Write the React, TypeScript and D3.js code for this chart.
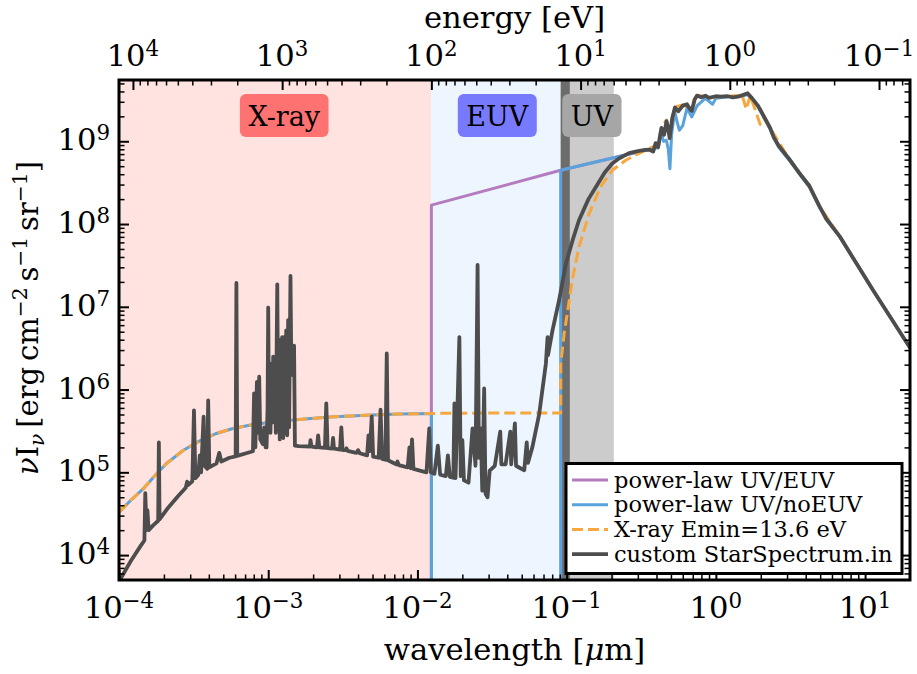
import { useEffect, useRef } from 'react'
import * as d3 from 'd3'

type Pt = [number, number]

const HC = 1.23984 // eV * um
const WAVE_DOMAIN: [number, number] = [1e-4, 20]
const FLUX_DOMAIN: [number, number] = [5e3, 5.5e9]

const waveMajor = [1e-4, 1e-3, 1e-2, 1e-1, 1, 10]
const waveMajorExp = ['−4', '−3', '−2', '−1', '0', '1']
const energyMajor = [1e4, 1e3, 1e2, 1e1, 1, 0.1]
const energyMajorExp = ['4', '3', '2', '1', '0', '−1']
const fluxMajor = [1e4, 1e5, 1e6, 1e7, 1e8, 1e9]
const fluxMajorExp = ['4', '5', '6', '7', '8', '9']

// shaded regions (wavelength, um)
const regionNames = ['X-ray', 'EUV', 'UV']
const regionFrom = [1e-4, 0.0124, 0.0912]
const regionTo = [0.0124, 0.0912, 0.207]
const regionLabelAt = [1.28e-3, 0.0343, 0.1476]
const darkBand: [number, number] = [0.0912, 0.105]

const legendNames = ['power-law UV/EUV', 'power-law UV/noEUV', 'X-ray Emin=13.6 eV', 'custom StarSpectrum.in']

// X-ray power law shared by the two power-law spectra
const xrayPowerLaw: Pt[] = [
  [1e-4, 3.3e4], [1.2e-4, 4.6e4], [1.45e-4, 6.3e4], [1.75e-4, 9.2e4], [2.08e-4, 1.28e5],
  [2.7e-4, 1.85e5], [3.48e-4, 2.4e5], [4.5e-4, 2.95e5], [5.8e-4, 3.39e5], [7.5e-4, 3.7e5],
  [9.7e-4, 3.96e5], [1.6e-3, 4.36e5], [2.6e-3, 4.65e5], [4.5e-3, 4.9e5], [7.5e-3, 5.05e5],
  [1.24e-2, 5.15e5],
]

const purpleLine: Pt[] = [
  [1.24e-2, 1e2], [1.24e-2, 1.69e8], [9.12e-2, 4.46e8], [3.9e-1, 8.3e8],
]

const blueGap: Pt[] = [
  [1.24e-2, 1e2], [9.12e-2, 1e2], [9.12e-2, 4.46e8], [3.9e-1, 8.3e8],
]

const blueStar: Pt[] = [
  [4.1e-1, 8.3e8], [4.3e-1, 1.3e9], [4.45e-1, 1.0e9], [4.66e-1, 1.03e9], [4.8e-1, 8e8],
  [4.92e-1, 4.67e8], [5.05e-1, 1.2e9], [5.3e-1, 2.3e9], [5.5e-1, 1.7e9], [5.7e-1, 1.36e9],
  [6.0e-1, 1.55e9], [6.4e-1, 2.5e9], [6.9e-1, 1.97e9], [7.5e-1, 2.7e9], [8.5e-1, 3.3e9],
  [9.5e-1, 2.8e9], [1.0, 3.3e9], [1.2, 3.45e9], [1.5, 3.5e9], [1.63, 3.7e9], [1.92, 2.6e9],
  [2.31, 1.4e9], [2.62, 8.6e8], [3.08, 6.0e8], [4.23, 2.8e8], [4.94, 1.6e8], [6.76, 7.0e7],
  [11.4, 1.55e7], [20, 3.2e6],
]

const orangeTail: Pt[] = [
  [1.24e-2, 5.15e5], [3e-2, 5.2e5], [9.12e-2, 5.2e5], [9.12e-2, 2.0e6], [9.62e-2, 4.75e6],
  [1.01e-1, 8.3e6], [1.09e-1, 2.1e7], [1.21e-1, 5.3e7], [1.416e-1, 1.34e8], [1.685e-1, 2.8e8],
  [2.02e-1, 4.46e8], [2.49e-1, 5.9e8], [3.03e-1, 7.1e8], [3.75e-1, 8.5e8], [4.1e-1, 9.0e8],
  [4.32e-1, 1.5e9], [4.67e-1, 1.8e9], [4.9e-1, 1.2e9], [5.32e-1, 2.6e9], [6.0e-1, 2.75e9],
  [6.9e-1, 2.4e9], [7.48e-1, 3.6e9], [9e-1, 3.4e9], [1.2, 3.5e9], [1.5, 3.6e9], [1.6, 2.44e9],
  [1.7, 3.6e9], [1.98, 1.6e9], [2.1, 1.9e9], [2.31, 1.45e9], [3.08, 6.2e8], [4.23, 2.9e8],
  [4.94, 1.65e8], [6.76, 7.1e7], [11.4, 1.55e7], [20, 3.2e6],
]

// custom StarSpectrum.in
const starSpectrum: Pt[] = [
  [1.0e-4, 4.8e3], [1.2e-4, 8.5e3], [1.4e-4, 1.3e4], [1.48e-4, 1.5e4], [1.5e-4, 5.6e4],
  [1.53e-4, 2.0e4], [1.55e-4, 3.5e4], [1.58e-4, 2.0e4], [1.7e-4, 2.3e4], [1.83e-4, 2.6e4],
  [1.85e-4, 2.3e5], [1.87e-4, 2.7e4], [2.1e-4, 3.6e4], [2.5e-4, 5.2e4], [2.8e-4, 6.5e4],
  [2.86e-4, 7.7e4], [2.9e-4, 7.0e4], [3.1e-4, 7.8e4], [3.18e-4, 5.6e5], [3.25e-4, 8.5e4],
  [3.4e-4, 9.3e4], [3.48e-4, 1.6e5], [3.55e-4, 1.0e5], [3.69e-4, 4.7e5], [3.75e-4, 1.2e5],
  [3.9e-4, 1.1e5], [3.96e-4, 7.4e5], [4.03e-4, 1.15e5], [4.5e-4, 1.28e5], [4.7e-4, 1.72e5],
  [4.85e-4, 1.35e5], [5.5e-4, 1.5e5], [6.05e-4, 1.56e5], [6.12e-4, 1.94e7], [6.2e-4, 1.58e5],
  [7.5e-4, 1.75e5], [7.9e-4, 1.8e5], [8.04e-4, 9e5], [8.2e-4, 2e5], [8.4e-4, 1.24e6],
  [8.55e-4, 3e5], [8.7e-4, 1.43e6], [8.85e-4, 2.5e5], [9.2e-4, 2.2e5], [9.4e-4, 3.5e5],
  [9.6e-4, 2.0e5], [9.75e-4, 2.0e5], [9.9e-4, 6e5], [1.0e-3, 9.8e6], [1.012e-3, 4e5],
  [1.025e-3, 2.07e6], [1.035e-3, 3e5], [1.05e-3, 1.5e6], [1.065e-3, 4e5], [1.08e-3, 2.5e6],
  [1.095e-3, 5e5], [1.11e-3, 2.2e6], [1.125e-3, 3e5], [1.15e-3, 1.87e7], [1.165e-3, 6e5],
  [1.18e-3, 3.95e6], [1.195e-3, 2.5e5], [1.21e-3, 4.0e6], [1.225e-3, 3e5], [1.24e-3, 4.3e6],
  [1.26e-3, 2.6e5], [1.28e-3, 4.3e6], [1.3e-3, 3e5], [1.32e-3, 5.2e6], [1.34e-3, 2.8e5],
  [1.36e-3, 6.9e6], [1.38e-3, 3.5e5], [1.41e-3, 2.36e7], [1.43e-3, 1.5e6], [1.45e-3, 3.4e6],
  [1.47e-3, 2.0e6], [1.49e-3, 3.4e6], [1.51e-3, 2.1e5], [1.6e-3, 2.07e5], [1.9e-3, 2.05e5],
  [1.92e-3, 2.45e5], [1.95e-3, 2.05e5], [2.12e-3, 2.0e5], [2.16e-3, 2.8e5], [2.2e-3, 2.0e5],
  [2.4e-3, 1.97e5], [2.45e-3, 6.8e5], [2.5e-3, 1.96e5], [2.68e-3, 1.94e5], [2.72e-3, 2.6e5],
  [2.76e-3, 1.93e5], [3.03e-3, 1.88e5], [3.09e-3, 3.5e5], [3.15e-3, 1.86e5], [3.3e-3, 1.85e5],
  [3.35e-3, 1.95e5], [3.4e-3, 1.82e5], [3.9e-3, 1.72e5], [4.0e-3, 1.85e5], [4.1e-3, 1.7e5],
  [4.6e-3, 1.6e5], [4.7e-3, 2.8e5], [4.8e-3, 1.8e5], [4.94e-3, 4.7e5], [5.05e-3, 1.55e5],
  [5.5e-3, 1.5e5], [5.66e-3, 5.7e5], [5.8e-3, 1.45e5], [6.1e-3, 1.42e5], [6.23e-3, 2.73e6],
  [6.35e-3, 1.4e5], [7.2e-3, 1.25e5], [7.35e-3, 1.35e5], [7.5e-3, 1.22e5], [8.6e-3, 1.15e5],
  [8.84e-3, 2.0e5], [9.0e-3, 1.12e5], [9.2e-3, 2.5e5], [9.4e-3, 1.1e5], [1.1e-2, 1.02e5],
  [1.15e-2, 1.0e5], [1.2e-2, 3.4e5], [1.23e-2, 1.0e5], [1.3e-2, 9.6e4], [1.37e-2, 2.1e5],
  [1.42e-2, 9.4e4], [1.55e-2, 9e4], [1.6e-2, 1.6e5], [1.65e-2, 8.8e4], [1.74e-2, 8.6e4],
  [1.77e-2, 6.8e5], [1.8e-2, 8.5e4], [1.91e-2, 4.3e6], [1.95e-2, 9e4], [2.0e-2, 2.45e5],
  [2.05e-2, 8e4], [2.2e-2, 7.5e4], [2.34e-2, 3.4e5], [2.45e-2, 1.2e5], [2.53e-2, 3.2e7],
  [2.58e-2, 1.5e5], [2.65e-2, 3.4e5], [2.72e-2, 6e4], [2.8e-2, 1.03e6], [2.86e-2, 5.5e4],
  [2.95e-2, 5e4], [3.05e-2, 1.05e5], [3.3e-2, 1.2e5], [3.59e-2, 3.1e5], [3.65e-2, 1.25e5],
  [3.9e-2, 1.25e5], [4.19e-2, 3.1e5], [4.25e-2, 1.25e5], [4.5e-2, 3.9e5], [4.58e-2, 1.2e5],
  [4.9e-2, 1.12e5], [5.2e-2, 1.06e5], [5.4e-2, 2.3e5], [5.5e-2, 1.3e5], [5.9e-2, 2.03e5],
  [6.55e-2, 5.1e5], [7.26e-2, 2.07e6], [7.45e-2, 4.3e6], [7.5e-2, 2.6e6], [8.04e-2, 5.2e6],
  [8.9e-2, 1.2e7], [9.88e-2, 3.3e7], [1.1e-1, 6.5e7], [1.21e-1, 1.11e8], [1.4e-1, 2.0e8],
  [1.57e-1, 2.8e8], [1.8e-1, 4.2e8], [2.02e-1, 5.4e8], [2.24e-1, 6.2e8], [2.62e-1, 7.2e8],
  [3.0e-1, 7.6e8], [3.36e-1, 7.85e8], [3.6e-1, 7.9e8], [3.8e-1, 7.5e8], [3.95e-1, 9.5e8],
  [4.1e-1, 8.5e8], [4.32e-1, 1.45e9], [4.5e-1, 1.2e9], [4.67e-1, 1.75e9], [4.8e-1, 1.4e9],
  [4.9e-1, 1.09e9], [5.1e-1, 1.9e9], [5.32e-1, 2.56e9], [5.6e-1, 2.3e9], [6.0e-1, 2.7e9],
  [6.4e-1, 2.8e9], [6.7e-1, 2.45e9], [6.9e-1, 2.33e9], [7.2e-1, 3.2e9], [7.48e-1, 3.56e9],
  [8e-1, 3.4e9], [8.5e-1, 3.55e9], [9e-1, 3.35e9], [1.0, 3.5e9], [1.08, 3.46e9], [1.2, 3.5e9],
  [1.3, 3.4e9], [1.41, 3.46e9], [1.5, 3.6e9], [1.63, 3.8e9], [1.75, 3.3e9], [1.92, 2.68e9],
  [2.1, 2.0e9], [2.31, 1.45e9], [2.45, 1.1e9], [2.62, 9e8], [3.08, 6.2e8], [3.6, 4.2e8],
  [4.23, 2.9e8], [4.94, 1.65e8], [5.5, 1.15e8], [6.76, 7.1e7], [11.4, 1.55e7], [20, 3.2e6],
]

const PLOT = { left: 119, right: 910, top: 80, bottom: 580 }
const FONT = 'DejaVu Serif, serif'
const COLORS = {
  purple: '#b47cbf',
  blue: '#5aa2dc',
  orange: '#f8a73e',
  gray: '#4d4d4d',
  regions: ['#ffe3e0', '#edf5fe', '#cccccc'],
  labels: ['#ff7272', '#787afe', '#a6a6a6'],
  dark: '#6c6c6c',
}

function minorTicks(lo: number, hi: number) {
  const out: number[] = []
  for (let p = Math.floor(Math.log10(lo)) - 1; p <= Math.ceil(Math.log10(hi)); p++) {
    for (let k = 2; k <= 9; k++) {
      const v = k * Math.pow(10, p)
      if (v > lo && v < hi) out.push(v)
    }
  }
  return out
}

export default function App() {
  const ref = useRef<SVGSVGElement>(null)

  useEffect(() => {
    const el = ref.current
    if (!el) return
    const svg = d3.select(el)
    svg.selectAll('*').remove()

    const x = d3.scaleLog().domain(WAVE_DOMAIN).range([PLOT.left, PLOT.right])
    const y = d3.scaleLog().domain(FLUX_DOMAIN).range([PLOT.bottom, PLOT.top])
    const e = d3
      .scaleLog()
      .domain([HC / WAVE_DOMAIN[0], HC / WAVE_DOMAIN[1]])
      .range([PLOT.left, PLOT.right])

    svg
      .append('defs')
      .append('clipPath')
      .attr('id', 'plot-clip')
      .append('rect')
      .attr('x', PLOT.left)
      .attr('y', PLOT.top)
      .attr('width', PLOT.right - PLOT.left)
      .attr('height', PLOT.bottom - PLOT.top)

    const plot = svg.append('g').attr('clip-path', 'url(#plot-clip)')

    // background regions
    regionNames.forEach((_, i) => {
      plot
        .append('rect')
        .attr('x', x(regionFrom[i]))
        .attr('y', PLOT.top)
        .attr('width', x(regionTo[i]) - x(regionFrom[i]))
        .attr('height', PLOT.bottom - PLOT.top)
        .attr('fill', COLORS.regions[i])
    })
    plot
      .append('rect')
      .attr('x', x(darkBand[0]))
      .attr('y', PLOT.top)
      .attr('width', x(darkBand[1]) - x(darkBand[0]))
      .attr('height', PLOT.bottom - PLOT.top)
      .attr('fill', COLORS.dark)

    const line = d3
      .line<Pt>()
      .x((d) => x(d[0]))
      .y((d) => y(d[1]))

    const drawLine = (data: Pt[], color: string, width: number, dash?: string) =>
      plot
        .append('path')
        .datum(data)
        .attr('d', line)
        .attr('fill', 'none')
        .attr('stroke', color)
        .attr('stroke-width', width)
        .attr('stroke-linejoin', 'round')
        .attr('stroke-dasharray', dash ?? null)

    drawLine(purpleLine, COLORS.purple, 3)
    drawLine([...xrayPowerLaw, ...blueGap, ...blueStar], COLORS.blue, 3)
    drawLine([...xrayPowerLaw, ...orangeTail], COLORS.orange, 3, '11 5')
    drawLine(starSpectrum, COLORS.gray, 3.8)

    // region labels
    regionNames.forEach((name, i) => {
      const g = svg.append('g')
      const t = g
        .append('text')
        .attr('x', x(regionLabelAt[i]))
        .attr('y', 126)
        .attr('text-anchor', 'middle')
        .style('font-family', FONT)
        .style('font-size', '27px')
        .text(name)
      const w = (t.node() as SVGTextElement).getComputedTextLength() + 17
      g.insert('rect', 'text')
        .attr('x', x(regionLabelAt[i]) - w / 2)
        .attr('y', 94)
        .attr('width', w)
        .attr('height', 43)
        .attr('rx', 6)
        .attr('fill', COLORS.labels[i])
    })

    // ticks (inward on all four sides)
    const styleTicks = (s: d3.Selection<SVGGElement, unknown, null, undefined>, w: number) => {
      s.select('.domain').remove()
      s.selectAll('line').attr('stroke', '#000').attr('stroke-width', w)
    }
    const addAxis = (axis: d3.Axis<number>, tx: number, ty: number, w: number) =>
      svg
        .append('g')
        .attr('transform', `translate(${tx},${ty})`)
        .call(axis as any)
        .call((s) => styleTicks(s as any, w))

    const waveMinor = minorTicks(WAVE_DOMAIN[0], WAVE_DOMAIN[1])
    const fluxMinor = minorTicks(FLUX_DOMAIN[0], FLUX_DOMAIN[1])
    const eMinor = minorTicks(HC / WAVE_DOMAIN[1], HC / WAVE_DOMAIN[0])
    const nofmt = () => ''

    addAxis(d3.axisBottom(x).tickValues(waveMajor).tickSize(-10).tickFormat(nofmt), 0, PLOT.bottom, 2)
    addAxis(d3.axisBottom(x).tickValues(waveMinor).tickSize(-5.5).tickFormat(nofmt), 0, PLOT.bottom, 1.5)
    addAxis(d3.axisTop(e).tickValues(energyMajor).tickSize(-10).tickFormat(nofmt), 0, PLOT.top, 2)
    addAxis(d3.axisTop(e).tickValues(eMinor).tickSize(-5.5).tickFormat(nofmt), 0, PLOT.top, 1.5)
    addAxis(d3.axisLeft(y).tickValues(fluxMajor).tickSize(-10).tickFormat(nofmt), PLOT.left, 0, 2)
    addAxis(d3.axisLeft(y).tickValues(fluxMinor).tickSize(-5.5).tickFormat(nofmt), PLOT.left, 0, 1.5)
    addAxis(d3.axisRight(y).tickValues(fluxMajor).tickSize(-10).tickFormat(nofmt), PLOT.right, 0, 2)
    addAxis(d3.axisRight(y).tickValues(fluxMinor).tickSize(-5.5).tickFormat(nofmt), PLOT.right, 0, 1.5)

    // frame
    svg
      .append('rect')
      .attr('x', PLOT.left)
      .attr('y', PLOT.top)
      .attr('width', PLOT.right - PLOT.left)
      .attr('height', PLOT.bottom - PLOT.top)
      .attr('fill', 'none')
      .attr('stroke', '#000')
      .attr('stroke-width', 3)

    // tick labels: 10^n
    const powLabel = (px: number, py: number, exp: string, anchor: string) => {
      const t = svg
        .append('text')
        .attr('x', px)
        .attr('y', py)
        .attr('text-anchor', anchor)
        .style('font-family', FONT)
        .style('font-size', '30.6px')
      t.append('tspan').text('10')
      t.append('tspan').attr('dy', -10).style('font-size', '21.4px').text(exp)
    }
    waveMajor.forEach((v, i) => powLabel(x(v), 618, waveMajorExp[i], 'middle'))
    energyMajor.forEach((v, i) => powLabel(e(v), 66, energyMajorExp[i], 'middle'))
    fluxMajor.forEach((v, i) => powLabel(110, y(v) + 9, fluxMajorExp[i], 'end'))

    // axis titles
    const xl = svg
      .append('text')
      .attr('x', (PLOT.left + PLOT.right) / 2)
      .attr('y', 660)
      .attr('text-anchor', 'middle')
      .style('font-family', FONT)
      .style('font-size', '30.6px')
    xl.append('tspan').text('wavelength [')
    xl.append('tspan').style('font-style', 'italic').text('μ')
    xl.append('tspan').text('m]')
    svg
      .append('text')
      .attr('x', (PLOT.left + PLOT.right) / 2)
      .attr('y', 28)
      .attr('text-anchor', 'middle')
      .style('font-family', FONT)
      .style('font-size', '30.6px')
      .text('energy [eV]')

    const yl = svg
      .append('text')
      .attr('transform', 'translate(38,318) rotate(-90)')
      .attr('text-anchor', 'middle')
      .style('font-family', FONT)
      .style('font-size', '29px')
    yl.append('tspan').style('font-style', 'italic').text('ν')
    yl.append('tspan').text('I')
    yl.append('tspan').attr('dy', 6).style('font-size', '20.3px').style('font-style', 'italic').text('ν')
    yl.append('tspan').attr('dy', -6).text('\u2009[erg\u2009cm')
    yl.append('tspan').attr('dy', -11).style('font-size', '20.3px').text('−2')
    yl.append('tspan').attr('dy', 11).text('\u2009s')
    yl.append('tspan').attr('dy', -11).style('font-size', '20.3px').text('−1')
    yl.append('tspan').attr('dy', 11).text('\u2009sr')
    yl.append('tspan').attr('dy', -11).style('font-size', '20.3px').text('−1')
    yl.append('tspan').attr('dy', 11).text(']')

    // legend
    const lg = svg.append('g')
    lg.append('rect')
      .attr('x', 566)
      .attr('y', 463.5)
      .attr('width', 336)
      .attr('height', 110)
      .attr('fill', '#fff')
      .attr('stroke', '#000')
      .attr('stroke-width', 3)
    const legendStyle = [
      { c: COLORS.purple, w: 3, dash: null },
      { c: COLORS.blue, w: 3, dash: null },
      { c: COLORS.orange, w: 3, dash: '11 5' },
      { c: COLORS.gray, w: 3.8, dash: null },
    ]
    legendNames.forEach((name, i) => {
      const cy = 480 + i * 24.7
      lg.append('line')
        .attr('x1', 572)
        .attr('x2', 608)
        .attr('y1', cy)
        .attr('y2', cy)
        .attr('stroke', legendStyle[i].c)
        .attr('stroke-width', legendStyle[i].w)
        .attr('stroke-dasharray', legendStyle[i].dash)
      lg.append('text')
        .attr('x', 614)
        .attr('y', cy + 7.5)
        .style('font-family', FONT)
        .style('font-size', '22.5px')
        .text(name)
    })
  }, [])

  return (
    <div style={{ position: 'absolute', left: 0, top: 0 }}>
      <svg ref={ref} width={917} height={674} style={{ display: 'block', background: '#fff' }} />
    </div>
  )
}
